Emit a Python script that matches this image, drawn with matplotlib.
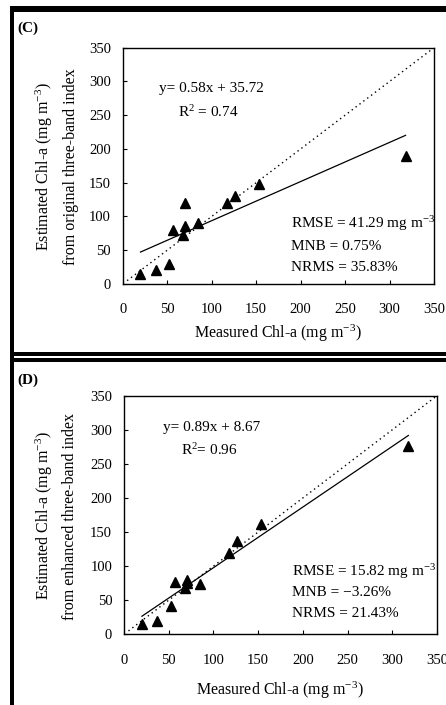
import matplotlib
matplotlib.use('Agg')
import matplotlib.pyplot as plt
from matplotlib.lines import Line2D
import numpy as np

plt.rcParams['font.family'] = ['Liberation Serif', 'DejaVu Serif']
plt.rcParams['mathtext.fontset'] = 'custom'
plt.rcParams['mathtext.rm'] = 'Liberation Serif'
plt.rcParams['mathtext.it'] = 'Liberation Serif:italic'
plt.rcParams['mathtext.default'] = 'regular'

# measured Chl-a (shared by both panels)
measured = [20, 37, 52, 57, 68, 70, 70, 85, 117, 126, 153, 318]
# estimated from original three-band index (C)
est_original = [15, 20, 30, 80, 72, 86, 120, 90, 120, 130, 148, 190]
# estimated from enhanced three-band index (D)
est_enhanced = [15, 20, 41, 76, 68, 80, 75, 74, 119, 137, 162, 276]

fit_c = (0.58, 35.72)
fit_d = (0.89, 8.67)

ticks = [0, 50, 100, 150, 200, 250, 300, 350]

W, H = 446, 705
fig = plt.figure(figsize=(W / 100, H / 100), dpi=100)
fig.patch.set_facecolor('white')


def px_axes(left, right, top, bottom):
    return fig.add_axes([left / W, 1 - bottom / H, (right - left) / W, (bottom - top) / H])


def draw_panel(ax, y, fit, eq_pos, r2_pos, stats, stats_x, stats_y):
    ax.plot([5, 350], [5, 350], color='black', lw=1.0, linestyle=(0, (1, 2.5)))
    xs = np.array([min(measured), max(measured)])
    ax.plot(xs, fit[0] * xs + fit[1], color='black', lw=0.9)
    ax.plot(measured, y, linestyle='none', marker='^', ms=7, color='black')
    ax.set_xlim(0, 350)
    ax.set_ylim(0, 350)
    ax.set_xticks(ticks)
    ax.set_yticks(ticks)
    ax.tick_params(axis='both', direction='in', length=3, width=0.8, labelsize=10.5)
    ax.tick_params(axis='x', pad=14)
    ax.tick_params(axis='y', pad=8.5)
    for s in ax.spines.values():
        s.set_linewidth(1.0)
    ax.text(eq_pos[0], eq_pos[1], f'y= {fit[0]:.2f}x + {fit[1]:.2f}', fontsize=11,
            ha='center', va='center')
    ax.text(r2_pos[0], r2_pos[1], r2_pos[2], fontsize=11, ha='center', va='center')
    for t, yy in zip(stats, stats_y):
        ax.text(stats_x, yy, t, fontsize=11, ha='left', va='center')


# panel C
ax1 = px_axes(122.7, 434, 47.7, 284)
draw_panel(ax1, est_original, fit_c, (100, 290), (96, 255, r'R$^{2}$ = 0.74'),
           [r'RMSE = 41.29 mg m$^{-3}$', 'MNB = 0.75%', 'NRMS = 35.83%'],
           189, [90, 56, 25])

# panel D
ax2 = px_axes(124, 437, 395.7, 634.3)
draw_panel(ax2, est_enhanced, fit_d, (98, 304), (95, 270, r'R$^{2}$= 0.96'),
           [r'RMSE = 15.82 mg m$^{-3}$', 'MNB = \u22123.26%', 'NRMS = 21.43%'],
           188, [92, 61, 31])

# labels placed in figure pixels
def ftext(x, y, s, **kw):
    fig.text(x / W, 1 - y / H, s, **kw)

ftext(17, 28, '(C)', fontsize=11, fontweight='bold', ha='left', va='center')
ftext(17, 380, '(D)', fontsize=11, fontweight='bold', ha='left', va='center')

ftext(278, 333, r'Measured Chl-a (mg m$^{-3}$)', fontsize=11.5, ha='center', va='center')
ftext(280, 690, r'Measured Chl-a (mg m$^{-3}$)', fontsize=11.5, ha='center', va='center')

ftext(44, 167, r'Estimated Chl-a (mg m$^{-3}$)', fontsize=11.5, rotation=90, ha='center', va='center')
ftext(71, 167, 'from original three-band index', fontsize=11.5, rotation=90, ha='center', va='center')
ftext(44, 516, r'Estimated Chl-a (mg m$^{-3}$)', fontsize=11.5, rotation=90, ha='center', va='center')
ftext(70, 516, 'from enhanced three-band index', fontsize=11.5, rotation=90, ha='center', va='center')

# black frame around the panels
def fline(x0, y0, x1, y1, lw_px):
    fig.add_artist(Line2D([x0 / W, x1 / W], [1 - y0 / H, 1 - y1 / H],
                          color='black', lw=lw_px * 0.72, solid_capstyle='butt'))

fline(10, 9, W, 9, 6)
fline(12, 6, 12, H, 4)
fline(10, 354, W, 354, 4)
fline(10, 360, W, 360, 4)

fig.savefig('out.png', dpi=100, facecolor='white')
